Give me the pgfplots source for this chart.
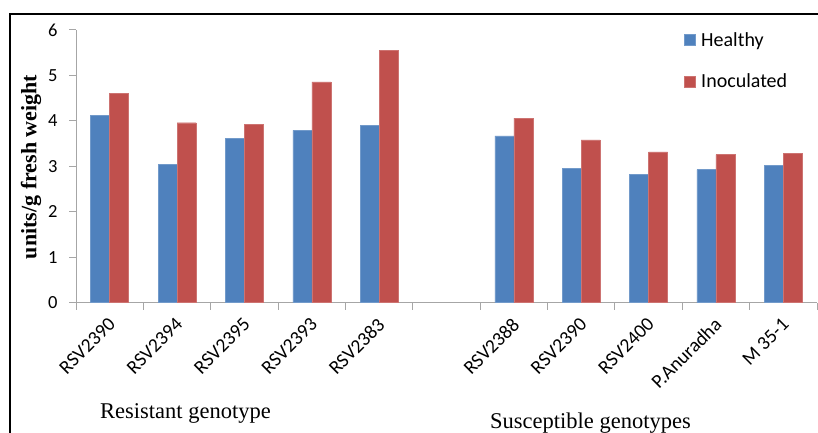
\documentclass[border=0pt]{standalone}
\usepackage{pgfplots}
\pgfplotsset{compat=1.18}
\usepackage{fontspec}
\setmainfont{Carlito}
\newfontfamily\serif{Liberation Serif}
\definecolor{hb}{HTML}{4F81BD}
\definecolor{ir}{HTML}{C0504D}
\definecolor{axg}{HTML}{A6A6A6}
\begin{document}
\begin{tikzpicture}[x=1pt,y=1pt]
\useasboundingbox (0,0) rectangle (818,433);
\draw[black, line width=1.2pt] (10,0) -- (10,419) -- (818,419);
\begin{axis}[
  at={(76pt,130.3pt)}, anchor=south west,
  scale only axis, width=741pt, height=272.7pt,
  xmin=-0.5, xmax=10.5, ymin=0, ymax=6,
  axis x line=bottom, axis y line=left,
  axis line style={-, draw=axg, line width=1pt},
  ybar=0pt, bar width=19pt,
  ytick={0,1,2,3,4,5,6},
  xtick={-0.5,0.5,1.5,2.5,3.5,4.5,5.5,6.5,7.5,8.5,9.5,10.5},
  xticklabels={},
  extra x ticks={0,1,2,3,4,6,7,8,9,10},
  extra x tick labels={RSV2390,RSV2394,RSV2395,RSV2393,RSV2383,RSV2388,RSV2390,RSV2400,P.Anuradha,M 35-1},
  extra x tick style={major tick length=0pt, tick label style={xshift=3pt, yshift=-18pt, rotate=45, anchor=east, font=\fontsize{19.5}{20}\selectfont, inner sep=1pt}},
  tick align=outside, major tick length=7pt,
  tick style={draw=axg, line width=1pt},
  yticklabel style={font=\fontsize{18.5}{19}\selectfont, xshift=-8pt},
  /pgf/number format/assume math mode=true,
  legend style={draw=none, fill=none, at={(rel axis cs:0.82,1.0)}, anchor=north west,
    font=\fontsize{20}{20}\selectfont, row sep=22pt, inner sep=0pt,
    nodes={inner sep=2pt},
    /tikz/every odd column/.append style={column sep=4pt}},
  legend cell align=left,
  legend image code/.code={\fill[#1] (0pt,-5.5pt) rectangle (11pt,5.5pt);},
]
\addplot[fill=hb, draw=hb!80!white] coordinates {
(0,4.12) (1,3.05) (2,3.62) (3,3.79) (4,3.90)
(6,3.67) (7,2.96) (8,2.82) (9,2.93) (10,3.02)};
\addplot[fill=ir, draw=ir!80!white] coordinates {
(0,4.61) (1,3.96) (2,3.93) (3,4.86) (4,5.55)
(6,4.06) (7,3.58) (8,3.32) (9,3.26) (10,3.29)};
\legend{Healthy, Inoculated}
\end{axis}
\node[rotate=90, font=\serif\bfseries\fontsize{22}{22}\selectfont] at (31,266) {units/g fresh weight};
\node[anchor=base west, inner sep=0pt, font=\serif\fontsize{22.5}{22.5}\selectfont] at (100,14) {Resistant genotype};
\node[anchor=base west, inner sep=0pt, font=\serif\fontsize{22.5}{22.5}\selectfont] at (490,5) {Susceptible genotypes};
\end{tikzpicture}
\end{document}
